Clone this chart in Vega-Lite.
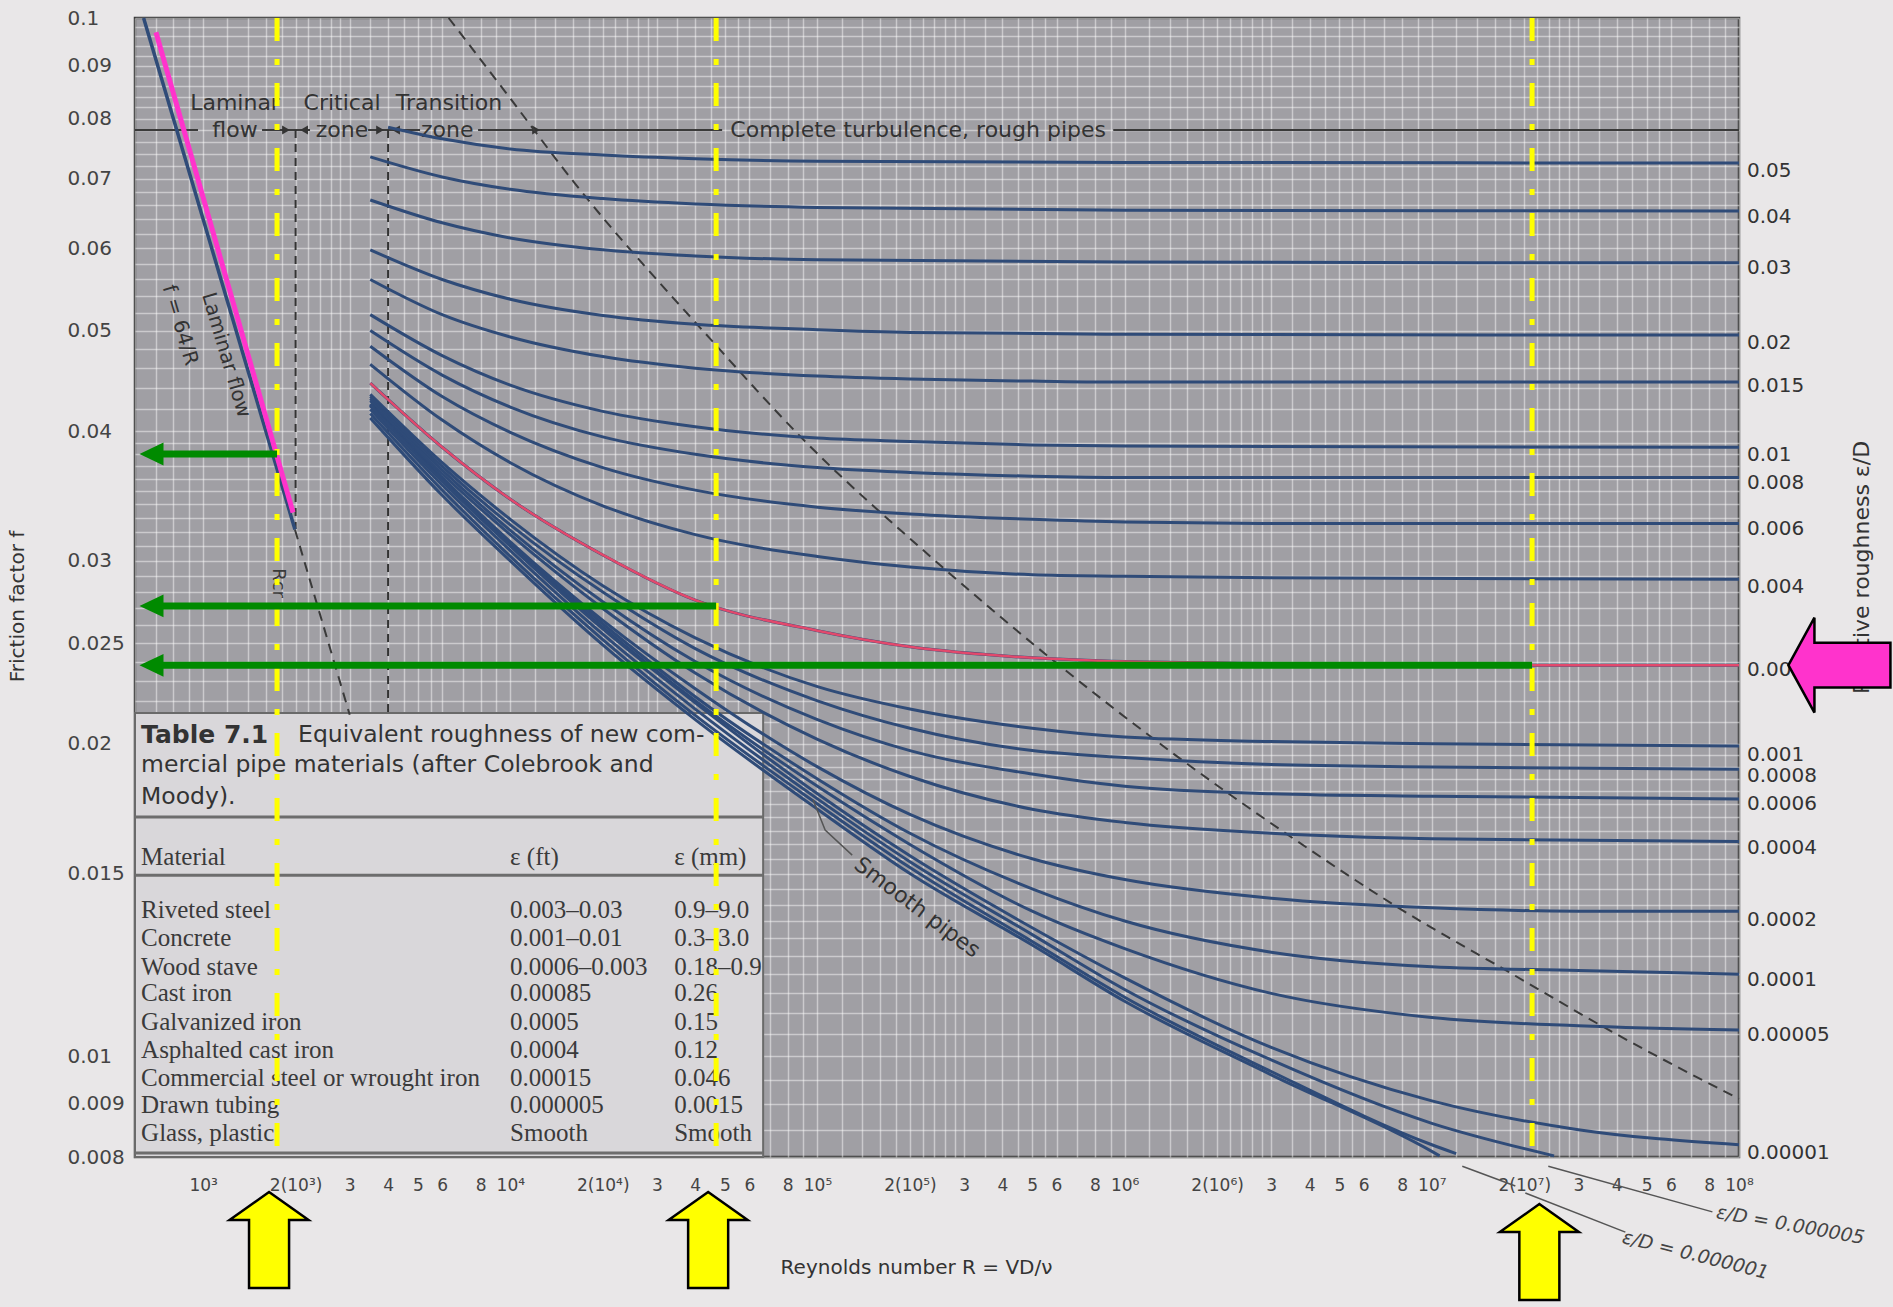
{
  "$schema": "https://vega.github.io/schema/vega-lite/v6.json",
  "width": 1604,
  "height": 1139,
  "autosize": {"type": "none"},
  "padding": {"left": 135, "top": 18, "right": 154, "bottom": 150},
  "background": "#e9e7e8",
  "datasets": {
    "curves": [
      {"r":"0.05","Re":4000,"f":0.0785},{"r":"0.05","Re":6000,"f":0.0765},{"r":"0.05","Re":10000,"f":0.0748},{"r":"0.05","Re":20000,"f":0.0738},{"r":"0.05","Re":40000,"f":0.0732},{"r":"0.05","Re":100000,"f":0.0728},{"r":"0.05","Re":1000000,"f":0.0726},{"r":"0.05","Re":100000000,"f":0.0725},
      {"r":"0.04","Re":3500,"f":0.0735},{"r":"0.04","Re":6000,"f":0.0703},{"r":"0.04","Re":10000,"f":0.0684},{"r":"0.04","Re":20000,"f":0.067},{"r":"0.04","Re":40000,"f":0.0662},{"r":"0.04","Re":100000,"f":0.0657},{"r":"0.04","Re":1000000,"f":0.0653},{"r":"0.04","Re":100000000,"f":0.0652},
      {"r":"0.03","Re":3500,"f":0.0668},{"r":"0.03","Re":6000,"f":0.0635},{"r":"0.03","Re":10000,"f":0.0614},{"r":"0.03","Re":20000,"f":0.0598},{"r":"0.03","Re":40000,"f":0.059},{"r":"0.03","Re":100000,"f":0.0585},{"r":"0.03","Re":1000000,"f":0.0582},{"r":"0.03","Re":100000000,"f":0.0581},
      {"r":"0.02","Re":3500,"f":0.0598},{"r":"0.02","Re":6000,"f":0.056},{"r":"0.02","Re":10000,"f":0.0536},{"r":"0.02","Re":20000,"f":0.0517},{"r":"0.02","Re":40000,"f":0.0507},{"r":"0.02","Re":100000,"f":0.0501},{"r":"0.02","Re":200000,"f":0.0498},{"r":"0.02","Re":1000000,"f":0.0496},{"r":"0.02","Re":100000000,"f":0.0495},
      {"r":"0.015","Re":3500,"f":0.056},{"r":"0.015","Re":6000,"f":0.0518},{"r":"0.015","Re":10000,"f":0.0493},{"r":"0.015","Re":20000,"f":0.0472},{"r":"0.015","Re":40000,"f":0.046},{"r":"0.015","Re":100000,"f":0.0452},{"r":"0.015","Re":200000,"f":0.0449},{"r":"0.015","Re":500000,"f":0.0447},{"r":"0.015","Re":1000000,"f":0.0446},{"r":"0.015","Re":100000000,"f":0.0446},
      {"r":"0.01","Re":3500,"f":0.0518},{"r":"0.01","Re":6000,"f":0.0473},{"r":"0.01","Re":10000,"f":0.0443},{"r":"0.01","Re":20000,"f":0.0418},{"r":"0.01","Re":40000,"f":0.0404},{"r":"0.01","Re":100000,"f":0.0394},{"r":"0.01","Re":200000,"f":0.0391},{"r":"0.01","Re":500000,"f":0.0388},{"r":"0.01","Re":1000000,"f":0.0387},{"r":"0.01","Re":100000000,"f":0.0386},
      {"r":"0.008","Re":3500,"f":0.05},{"r":"0.008","Re":6000,"f":0.0453},{"r":"0.008","Re":10000,"f":0.0422},{"r":"0.008","Re":20000,"f":0.0395},{"r":"0.008","Re":40000,"f":0.038},{"r":"0.008","Re":100000,"f":0.0369},{"r":"0.008","Re":200000,"f":0.0365},{"r":"0.008","Re":500000,"f":0.0362},{"r":"0.008","Re":1000000,"f":0.0361},{"r":"0.008","Re":100000000,"f":0.0361},
      {"r":"0.006","Re":3500,"f":0.0483},{"r":"0.006","Re":6000,"f":0.0432},{"r":"0.006","Re":10000,"f":0.0399},{"r":"0.006","Re":20000,"f":0.0369},{"r":"0.006","Re":40000,"f":0.0351},{"r":"0.006","Re":100000,"f":0.0338},{"r":"0.006","Re":200000,"f":0.0333},{"r":"0.006","Re":500000,"f":0.0329},{"r":"0.006","Re":1000000,"f":0.0327},{"r":"0.006","Re":3000000,"f":0.0326},{"r":"0.006","Re":100000000,"f":0.0326},
      {"r":"0.004","Re":3500,"f":0.0464},{"r":"0.004","Re":6000,"f":0.041},{"r":"0.004","Re":10000,"f":0.0373},{"r":"0.004","Re":20000,"f":0.0339},{"r":"0.004","Re":40000,"f":0.0318},{"r":"0.004","Re":100000,"f":0.0303},{"r":"0.004","Re":200000,"f":0.0296},{"r":"0.004","Re":500000,"f":0.0291},{"r":"0.004","Re":1000000,"f":0.029},{"r":"0.004","Re":3000000,"f":0.0289},{"r":"0.004","Re":100000000,"f":0.0288},
      {"r":"0.002","Re":3500,"f":0.0445},{"r":"0.002","Re":6000,"f":0.0386},{"r":"0.002","Re":10000,"f":0.0344},{"r":"0.002","Re":20000,"f":0.0304},{"r":"0.002","Re":40000,"f":0.0275},{"r":"0.002","Re":100000,"f":0.0257},{"r":"0.002","Re":200000,"f":0.0248},{"r":"0.002","Re":500000,"f":0.0242},{"r":"0.002","Re":1000000,"f":0.024},{"r":"0.002","Re":3000000,"f":0.0239},{"r":"0.002","Re":10000000,"f":0.0238},{"r":"0.002","Re":100000000,"f":0.0238},
      {"r":"0.001","Re":3500,"f":0.0434},{"r":"0.001","Re":6000,"f":0.0373},{"r":"0.001","Re":10000,"f":0.0329},{"r":"0.001","Re":20000,"f":0.0284},{"r":"0.001","Re":40000,"f":0.0253},{"r":"0.001","Re":100000,"f":0.0227},{"r":"0.001","Re":200000,"f":0.0216},{"r":"0.001","Re":500000,"f":0.0207},{"r":"0.001","Re":1000000,"f":0.0203},{"r":"0.001","Re":3000000,"f":0.0201},{"r":"0.001","Re":10000000,"f":0.02},{"r":"0.001","Re":100000000,"f":0.0199},
      {"r":"0.0008","Re":3500,"f":0.0432},{"r":"0.0008","Re":6000,"f":0.037},{"r":"0.0008","Re":10000,"f":0.0325},{"r":"0.0008","Re":20000,"f":0.028},{"r":"0.0008","Re":40000,"f":0.0247},{"r":"0.0008","Re":100000,"f":0.022},{"r":"0.0008","Re":200000,"f":0.0207},{"r":"0.0008","Re":500000,"f":0.0197},{"r":"0.0008","Re":1000000,"f":0.0194},{"r":"0.0008","Re":3000000,"f":0.0191},{"r":"0.0008","Re":10000000,"f":0.019},{"r":"0.0008","Re":100000000,"f":0.0189},
      {"r":"0.0006","Re":3500,"f":0.043},{"r":"0.0006","Re":6000,"f":0.0367},{"r":"0.0006","Re":10000,"f":0.0321},{"r":"0.0006","Re":20000,"f":0.0274},{"r":"0.0006","Re":40000,"f":0.024},{"r":"0.0006","Re":100000,"f":0.0211},{"r":"0.0006","Re":200000,"f":0.0197},{"r":"0.0006","Re":500000,"f":0.0187},{"r":"0.0006","Re":1000000,"f":0.0182},{"r":"0.0006","Re":3000000,"f":0.0179},{"r":"0.0006","Re":10000000,"f":0.0178},{"r":"0.0006","Re":100000000,"f":0.0177},
      {"r":"0.0004","Re":3500,"f":0.0428},{"r":"0.0004","Re":6000,"f":0.0364},{"r":"0.0004","Re":10000,"f":0.0318},{"r":"0.0004","Re":20000,"f":0.027},{"r":"0.0004","Re":40000,"f":0.0234},{"r":"0.0004","Re":100000,"f":0.0202},{"r":"0.0004","Re":200000,"f":0.0186},{"r":"0.0004","Re":500000,"f":0.0173},{"r":"0.0004","Re":1000000,"f":0.0168},{"r":"0.0004","Re":3000000,"f":0.0164},{"r":"0.0004","Re":10000000,"f":0.0162},{"r":"0.0004","Re":100000000,"f":0.0161},
      {"r":"0.0002","Re":3500,"f":0.0425},{"r":"0.0002","Re":6000,"f":0.0361},{"r":"0.0002","Re":10000,"f":0.0313},{"r":"0.0002","Re":20000,"f":0.0263},{"r":"0.0002","Re":40000,"f":0.0226},{"r":"0.0002","Re":100000,"f":0.019},{"r":"0.0002","Re":200000,"f":0.0171},{"r":"0.0002","Re":500000,"f":0.0155},{"r":"0.0002","Re":1000000,"f":0.0148},{"r":"0.0002","Re":3000000,"f":0.0142},{"r":"0.0002","Re":10000000,"f":0.0139},{"r":"0.0002","Re":30000000,"f":0.0138},{"r":"0.0002","Re":100000000,"f":0.0138},
      {"r":"0.0001","Re":3500,"f":0.0424},{"r":"0.0001","Re":6000,"f":0.036},{"r":"0.0001","Re":10000,"f":0.0312},{"r":"0.0001","Re":20000,"f":0.0261},{"r":"0.0001","Re":40000,"f":0.0222},{"r":"0.0001","Re":100000,"f":0.0185},{"r":"0.0001","Re":200000,"f":0.0164},{"r":"0.0001","Re":500000,"f":0.0145},{"r":"0.0001","Re":1000000,"f":0.0135},{"r":"0.0001","Re":3000000,"f":0.0126},{"r":"0.0001","Re":10000000,"f":0.0122},{"r":"0.0001","Re":30000000,"f":0.0121},{"r":"0.0001","Re":100000000,"f":0.012},
      {"r":"0.00005","Re":3500,"f":0.0424},{"r":"0.00005","Re":6000,"f":0.0359},{"r":"0.00005","Re":10000,"f":0.0311},{"r":"0.00005","Re":20000,"f":0.0259},{"r":"0.00005","Re":40000,"f":0.022},{"r":"0.00005","Re":100000,"f":0.0182},{"r":"0.00005","Re":200000,"f":0.016},{"r":"0.00005","Re":500000,"f":0.0138},{"r":"0.00005","Re":1000000,"f":0.0127},{"r":"0.00005","Re":3000000,"f":0.0115},{"r":"0.00005","Re":10000000,"f":0.0109},{"r":"0.00005","Re":30000000,"f":0.0107},{"r":"0.00005","Re":100000000,"f":0.0106},
      {"r":"0.00001","Re":3500,"f":0.0423},{"r":"0.00001","Re":6000,"f":0.0358},{"r":"0.00001","Re":10000,"f":0.031},{"r":"0.00001","Re":20000,"f":0.0258},{"r":"0.00001","Re":40000,"f":0.0219},{"r":"0.00001","Re":100000,"f":0.0179},{"r":"0.00001","Re":200000,"f":0.0156},{"r":"0.00001","Re":500000,"f":0.0133},{"r":"0.00001","Re":1000000,"f":0.0119},{"r":"0.00001","Re":3000000,"f":0.0102},{"r":"0.00001","Re":10000000,"f":0.00906},{"r":"0.00001","Re":30000000,"f":0.0085},{"r":"0.00001","Re":100000000,"f":0.00822},
      {"r":"0.000005","Re":3500,"f":0.042},{"r":"0.000005","Re":6000,"f":0.0355},{"r":"0.000005","Re":10000,"f":0.0307},{"r":"0.000005","Re":20000,"f":0.0255},{"r":"0.000005","Re":40000,"f":0.0216},{"r":"0.000005","Re":100000,"f":0.0177},{"r":"0.000005","Re":200000,"f":0.0154},{"r":"0.000005","Re":500000,"f":0.0131},{"r":"0.000005","Re":1000000,"f":0.0116},{"r":"0.000005","Re":3000000,"f":0.00992},{"r":"0.000005","Re":10000000,"f":0.00862},{"r":"0.000005","Re":25000000,"f":0.00802},
      {"r":"0.000001","Re":3500,"f":0.0416},{"r":"0.000001","Re":6000,"f":0.0351},{"r":"0.000001","Re":10000,"f":0.0303},{"r":"0.000001","Re":20000,"f":0.0252},{"r":"0.000001","Re":40000,"f":0.0213},{"r":"0.000001","Re":100000,"f":0.0175},{"r":"0.000001","Re":200000,"f":0.0152},{"r":"0.000001","Re":500000,"f":0.0129},{"r":"0.000001","Re":1000000,"f":0.0114},{"r":"0.000001","Re":3000000,"f":0.00967},{"r":"0.000001","Re":10000000,"f":0.00822},{"r":"0.000001","Re":12000000,"f":0.00806},
      {"r":"smooth","Re":3500,"f":0.0412},{"r":"smooth","Re":6000,"f":0.0347},{"r":"smooth","Re":10000,"f":0.03},{"r":"smooth","Re":20000,"f":0.0249},{"r":"smooth","Re":40000,"f":0.0211},{"r":"smooth","Re":100000,"f":0.0173},{"r":"smooth","Re":200000,"f":0.015},{"r":"smooth","Re":500000,"f":0.0128},{"r":"smooth","Re":1000000,"f":0.0113},{"r":"smooth","Re":3000000,"f":0.0096},{"r":"smooth","Re":10000000,"f":0.0081},{"r":"smooth","Re":10600000,"f":0.00802}
    ],
    "rlabels": [
      {"t":"0.05","f":0.07121},{"t":"0.04","f":0.0643},{"t":"0.03","f":0.05744},{"t":"0.02","f":0.04863},{"t":"0.015","f":0.0442},{"t":"0.01","f":0.03794},{"t":"0.008","f":0.03565},{"t":"0.006","f":0.0322},{"t":"0.004","f":0.02831},{"t":"0.002","f":0.02355},{"t":"0.001","f":0.01951},{"t":"0.0008","f":0.01862},{"t":"0.0006","f":0.0175},{"t":"0.0004","f":0.01586},{"t":"0.0002","f":0.01353},{"t":"0.0001","f":0.01184},{"t":"0.00005","f":0.01048},{"t":"0.00001","f":0.00807}
    ],
    "boundary": [
      {"Re":6300,"f":0.1},{"Re":9600,"f":0.085},{"Re":16100,"f":0.0695},{"Re":45000,"f":0.049},{"Re":92000,"f":0.039},{"Re":230000,"f":0.0304},{"Re":1430000,"f":0.0196},{"Re":3900000,"f":0.0159},{"Re":7500000,"f":0.014},{"Re":18300000,"f":0.012},{"Re":40000000,"f":0.0105},{"Re":100000000,"f":0.0091}
    ],
    "laminar": [{"Re":640,"f":0.1},{"Re":1990,"f":0.03216}],
    "laminarDash": [{"Re":1990,"f":0.03216},{"Re":3000,"f":0.02133}],
    "vdash": [{"Re":2000,"f1":0.078,"f2":0.0322},{"Re":4000,"f1":0.078,"f2":0.02141}],
    "header": [{"a":600,"b":962},{"a":1555,"b":2228},{"a":3443,"b":5083},{"a":7853,"b":48930},{"a":918000,"b":100000000}],
    "headerTri": [{"Re":1861,"d":"r"},{"Re":2131,"d":"l"},{"Re":3766,"d":"r"},{"Re":4246,"d":"l"},{"Re":12131,"d":"r"}],
    "headerText": [
      {"t":"Laminar","Re":1270,"f":0.0828},{"t":"flow","Re":1270,"f":0.078},
      {"t":"Critical","Re":2833,"f":0.0828},{"t":"zone","Re":2833,"f":0.078},
      {"t":"Transition","Re":6318,"f":0.0828},{"t":"zone","Re":6230,"f":0.078},
      {"t":"Complete turbulence, rough pipes","Re":212700,"f":0.078}
    ],
    "tableBox": [{"a":600,"b":66540,"f1":0.008,"f2":0.021413}],
    "tableRules": [{"f":0.016999},{"f":0.014943},{"f":0.00807}],
    "capBold": [{"t":"Table 7.1","Re":628,"f":0.020395}],
    "cap": [
      {"t":"Equivalent roughness of new com-","Re":2037,"f":0.020395},
      {"t":"mercial pipe materials (after Colebrook and","Re":628,"f":0.019083},
      {"t":"Moody).","Re":628,"f":0.017773}
    ],
    "table": [
      {"m":"Material","ft":"ε (ft)","mm":"ε (mm)","f":0.015552},
      {"m":"Riveted steel","ft":"0.003–0.03","mm":"0.9–9.0","f":0.013832},
      {"m":"Concrete","ft":"0.001–0.01","mm":"0.3–3.0","f":0.013001},
      {"m":"Wood stave","ft":"0.0006–0.003","mm":"0.18–0.9","f":0.01219},
      {"m":"Cast iron","ft":"0.00085","mm":"0.26","f":0.011504},
      {"m":"Galvanized iron","ft":"0.0005","mm":"0.15","f":0.010789},
      {"m":"Asphalted cast iron","ft":"0.0004","mm":"0.12","f":0.010141},
      {"m":"Commercial steel or wrought iron","ft":"0.00015","mm":"0.046","f":0.00953},
      {"m":"Drawn tubing","ft":"0.000005","mm":"0.0015","f":0.008976},
      {"m":"Glass, plastic","ft":"Smooth","mm":"Smooth","f":0.008436}
    ],
    "lamText": [{"t":"Laminar flow","Re":1187,"f":0.04736},{"t":"f = 64/R","Re":841,"f":0.0506}],
    "rcr": [{"t":"Rcr","Re":1753,"f":0.02856}],
    "smoothText": [{"t":"Smooth pipes","Re":211200,"f":0.013917}],
    "eps5": [{"t":"ε/D = 0.000005","Re":147000000,"f":0.006878}],
    "eps1": [{"t":"ε/D = 0.000001","Re":72100000,"f":0.006436}],
    "leaders": [
      {"g":"L1","Re":12566000,"f":0.007837},{"g":"L1","Re":18702000,"f":0.007501},
      {"g":"L2","Re":20157000,"f":0.007385},{"g":"L2","Re":42660000,"f":0.006772},
      {"g":"L3","Re":23940000,"f":0.007837},{"g":"L3","Re":81920000,"f":0.007083},
      {"g":"S","Re":96800,"f":0.017653},{"g":"S","Re":105920,"f":0.016517},{"g":"S","Re":129700,"f":0.015624}
    ],
    "pink": [{"Re":702,"f":0.0969},{"Re":1962,"f":0.0334}],
    "yellow": [{"Re":1740},{"Re":46780},{"Re":21200000}],
    "green": [{"f":0.03803,"Re0":679,"Re1":1740},{"f":0.02715,"Re0":679,"Re1":46780},{"f":0.0238,"Re0":679,"Re1":21200000}],
    "yArrows": [{"Re":1639,"f":0.006654},{"Re":44060,"f":0.006654},{"Re":22390000,"f":0.006479}],
    "pArrow": [{"Re":212300000,"f":0.02381}]
  },
  "resolve": {"axis": {"x": "independent", "y": "independent"}},
  "layer": [
    {
      "data": {"name": "tableBox"},
      "mark": {"type": "rect", "fill": "#d9d7da", "stroke": "#6a6a6a", "strokeWidth": 2},
      "encoding": {
        "x": {"field": "a", "type": "quantitative", "scale": {"type": "log", "domain": [600, 100000000], "nice": false},
          "axis": {"orient": "top", "grid": true, "gridColor": "#ffffff", "gridOpacity": 0.45, "gridWidth": 1.5, "labels": false, "title": null,
            "values": [600,700,800,900,1000,1200,1400,1600,1800,2000,2200,2400,2600,2800,3000,3500,4000,4500,5000,5500,6000,7000,8000,9000,10000,12000,14000,16000,18000,20000,22000,24000,26000,28000,30000,35000,40000,45000,50000,55000,60000,70000,80000,90000,100000,120000,140000,160000,180000,200000,220000,240000,260000,280000,300000,350000,400000,450000,500000,550000,600000,700000,800000,900000,1000000,1200000,1400000,1600000,1800000,2000000,2200000,2400000,2600000,2800000,3000000,3500000,4000000,4500000,5000000,5500000,6000000,7000000,8000000,9000000,10000000,12000000,14000000,16000000,18000000,20000000,22000000,24000000,26000000,28000000,30000000,35000000,40000000,45000000,50000000,55000000,60000000,70000000,80000000,90000000,100000000]}},
        "x2": {"field": "b"},
        "y": {"field": "f1", "type": "quantitative", "scale": {"type": "log", "domain": [0.008, 0.1], "nice": false},
          "axis": {"orient": "right", "grid": true, "gridColor": "#ffffff", "gridOpacity": 0.45, "gridWidth": 1.5, "labels": false,
            "title": "Relative roughness ε/D", "titleAngle": 270, "titlePadding": 134, "titleY": 549, "titleFontSize": 22,
            "values": [0.008,0.0085,0.009,0.0095,0.01,0.0105,0.011,0.0115,0.012,0.0125,0.013,0.0135,0.014,0.0145,0.015,0.0155,0.016,0.0165,0.017,0.0175,0.018,0.0185,0.019,0.0195,0.02,0.021,0.022,0.023,0.024,0.025,0.026,0.027,0.028,0.029,0.03,0.031,0.032,0.033,0.034,0.035,0.036,0.037,0.038,0.039,0.04,0.042,0.044,0.046,0.048,0.05,0.052,0.054,0.056,0.058,0.06,0.062,0.064,0.066,0.068,0.07,0.072,0.074,0.076,0.078,0.08,0.082,0.084,0.086,0.088,0.09,0.092,0.094,0.096,0.098,0.1]}},
        "y2": {"field": "f2"}
      }
    },
    {
      "data": {"name": "tableRules"},
      "mark": {"type": "rule", "stroke": "#6d6d6d", "strokeWidth": 3},
      "encoding": {
        "x": {"datum": 600, "type": "quantitative", "scale": {"type": "log", "domain": [600, 100000000], "nice": false}, "axis": null},
        "x2": {"datum": 66540},
        "y": {"field": "f", "type": "quantitative", "scale": {"type": "log", "domain": [0.008, 0.1], "nice": false}, "axis": null}
      }
    },
    {
      "data": {"name": "capBold"},
      "mark": {"type": "text", "font": "DejaVu Sans", "fontWeight": "bold", "fontSize": 25, "align": "left", "baseline": "middle", "color": "#333333"},
      "encoding": {
        "x": {"field": "Re", "type": "quantitative", "scale": {"type": "log", "domain": [600, 100000000], "nice": false}, "axis": null},
        "y": {"field": "f", "type": "quantitative", "scale": {"type": "log", "domain": [0.008, 0.1], "nice": false}, "axis": null},
        "text": {"field": "t"}
      }
    },
    {
      "data": {"name": "cap"},
      "mark": {"type": "text", "font": "DejaVu Sans", "fontSize": 23.5, "align": "left", "baseline": "middle", "color": "#333333"},
      "encoding": {
        "x": {"field": "Re", "type": "quantitative", "scale": {"type": "log", "domain": [600, 100000000], "nice": false}, "axis": null},
        "y": {"field": "f", "type": "quantitative", "scale": {"type": "log", "domain": [0.008, 0.1], "nice": false}, "axis": null},
        "text": {"field": "t"}
      }
    },
    {
      "data": {"name": "table"},
      "mark": {"type": "text", "font": "Liberation Serif", "fontSize": 25, "align": "left", "baseline": "middle", "color": "#3a3a3a"},
      "encoding": {
        "x": {"datum": 628, "type": "quantitative", "scale": {"type": "log", "domain": [600, 100000000], "nice": false}, "axis": null},
        "y": {"field": "f", "type": "quantitative", "scale": {"type": "log", "domain": [0.008, 0.1], "nice": false}, "axis": null},
        "text": {"field": "m"}
      }
    },
    {
      "data": {"name": "table"},
      "mark": {"type": "text", "font": "Liberation Serif", "fontSize": 25, "align": "left", "baseline": "middle", "color": "#3a3a3a"},
      "encoding": {
        "x": {"datum": 9983, "type": "quantitative", "scale": {"type": "log", "domain": [600, 100000000], "nice": false}, "axis": null},
        "y": {"field": "f", "type": "quantitative", "scale": {"type": "log", "domain": [0.008, 0.1], "nice": false}, "axis": null},
        "text": {"field": "ft"}
      }
    },
    {
      "data": {"name": "table"},
      "mark": {"type": "text", "font": "Liberation Serif", "fontSize": 25, "align": "left", "baseline": "middle", "color": "#3a3a3a"},
      "encoding": {
        "x": {"datum": 34150, "type": "quantitative", "scale": {"type": "log", "domain": [600, 100000000], "nice": false}, "axis": null},
        "y": {"field": "f", "type": "quantitative", "scale": {"type": "log", "domain": [0.008, 0.1], "nice": false}, "axis": null},
        "text": {"field": "mm"}
      }
    },
    {
      "data": {"name": "header"},
      "mark": {"type": "rule", "stroke": "#3a3a3a", "strokeWidth": 2},
      "encoding": {
        "x": {"field": "a", "type": "quantitative", "scale": {"type": "log", "domain": [600, 100000000], "nice": false}, "axis": null},
        "x2": {"field": "b"},
        "y": {"datum": 0.078, "type": "quantitative", "scale": {"type": "log", "domain": [0.008, 0.1], "nice": false}, "axis": null}
      }
    },
    {
      "data": {"name": "headerTri"},
      "mark": {"type": "point", "filled": true, "size": 80, "color": "#333333", "opacity": 1},
      "encoding": {
        "x": {"field": "Re", "type": "quantitative", "scale": {"type": "log", "domain": [600, 100000000], "nice": false}, "axis": null},
        "y": {"datum": 0.078, "type": "quantitative", "scale": {"type": "log", "domain": [0.008, 0.1], "nice": false}, "axis": null},
        "shape": {"field": "d", "type": "nominal", "scale": {"domain": ["r", "l"], "range": ["triangle-right", "triangle-left"]}, "legend": null}
      }
    },
    {
      "data": {"name": "headerText"},
      "mark": {"type": "text", "font": "DejaVu Sans", "fontSize": 22, "align": "center", "baseline": "middle", "color": "#333333"},
      "encoding": {
        "x": {"field": "Re", "type": "quantitative", "scale": {"type": "log", "domain": [600, 100000000], "nice": false}, "axis": null},
        "y": {"field": "f", "type": "quantitative", "scale": {"type": "log", "domain": [0.008, 0.1], "nice": false}, "axis": null},
        "text": {"field": "t"}
      }
    },
    {
      "data": {"name": "vdash"},
      "mark": {"type": "rule", "stroke": "#333333", "strokeWidth": 2, "strokeDash": [8, 6]},
      "encoding": {
        "x": {"field": "Re", "type": "quantitative", "scale": {"type": "log", "domain": [600, 100000000], "nice": false}, "axis": null},
        "y": {"field": "f1", "type": "quantitative", "scale": {"type": "log", "domain": [0.008, 0.1], "nice": false}, "axis": null},
        "y2": {"field": "f2"}
      }
    },
    {
      "data": {"name": "boundary"},
      "mark": {"type": "line", "interpolate": "monotone", "stroke": "#3a3a3a", "strokeWidth": 2, "strokeDash": [10, 7]},
      "encoding": {
        "x": {"field": "Re", "type": "quantitative", "scale": {"type": "log", "domain": [600, 100000000], "nice": false}, "axis": null},
        "y": {"field": "f", "type": "quantitative", "scale": {"type": "log", "domain": [0.008, 0.1], "nice": false}, "axis": null}
      }
    },
    {
      "data": {"name": "laminarDash"},
      "mark": {"type": "line", "stroke": "#3a3a3a", "strokeWidth": 2, "strokeDash": [10, 7]},
      "encoding": {
        "x": {"field": "Re", "type": "quantitative", "scale": {"type": "log", "domain": [600, 100000000], "nice": false}, "axis": null},
        "y": {"field": "f", "type": "quantitative", "scale": {"type": "log", "domain": [0.008, 0.1], "nice": false}, "axis": null}
      }
    },
    {
      "data": {"name": "curves"},
      "mark": {"type": "line", "interpolate": "monotone", "stroke": "#2f4b78", "strokeWidth": 3},
      "encoding": {
        "x": {"field": "Re", "type": "quantitative", "scale": {"type": "log", "domain": [600, 100000000], "nice": false},
          "axis": {"orient": "bottom", "grid": false,
            "values": [1000,2000,3000,4000,5000,6000,8000,10000,20000,30000,40000,50000,60000,80000,100000,200000,300000,400000,500000,600000,800000,1000000,2000000,3000000,4000000,5000000,6000000,8000000,10000000,20000000,30000000,40000000,50000000,60000000,80000000,100000000],
            "labelExpr": "round(datum.value / pow(10, floor(log(datum.value) / LN10 + 0.001))) == 1 ? '10' + substring('⁰¹²³⁴⁵⁶⁷⁸⁹', floor(log(datum.value) / LN10 + 0.001), floor(log(datum.value) / LN10 + 0.001) + 1) : (round(datum.value / pow(10, floor(log(datum.value) / LN10 + 0.001))) == 2 ? '2(10' + substring('⁰¹²³⁴⁵⁶⁷⁸⁹', floor(log(datum.value) / LN10 + 0.001), floor(log(datum.value) / LN10 + 0.001) + 1) + ')' : '' + round(datum.value / pow(10, floor(log(datum.value) / LN10 + 0.001))))",
            "labelFontSize": 17, "labelPadding": 20, "labelOverlap": false, "labelFlush": false,
            "title": "Reynolds number R = VD/ν", "titleFontSize": 20, "titlePadding": 64, "titleX": 781}},
        "y": {"field": "f", "type": "quantitative", "scale": {"type": "log", "domain": [0.008, 0.1], "nice": false},
          "axis": {"orient": "left", "grid": false,
            "values": [0.1,0.09,0.08,0.07,0.06,0.05,0.04,0.03,0.025,0.02,0.015,0.01,0.009,0.008],
            "format": "~g", "labelFontSize": 20, "labelAlign": "left", "labelPadding": 68, "labelBaseline": "middle", "labelOverlap": false, "labelFlush": false,
            "title": "Friction factor f", "titleFontSize": 20, "titlePadding": 40, "titleY": 588}},
        "detail": {"field": "r", "type": "nominal"}
      }
    },
    {
      "data": {"name": "laminar"},
      "mark": {"type": "line", "stroke": "#2f4b78", "strokeWidth": 3.5},
      "encoding": {
        "x": {"field": "Re", "type": "quantitative", "scale": {"type": "log", "domain": [600, 100000000], "nice": false}, "axis": null},
        "y": {"field": "f", "type": "quantitative", "scale": {"type": "log", "domain": [0.008, 0.1], "nice": false}, "axis": null}
      }
    },
    {
      "data": {"name": "curves"},
      "transform": [{"filter": "datum.r == '0.002'"}],
      "mark": {"type": "line", "interpolate": "monotone", "stroke": "#e2496c", "strokeWidth": 2.5},
      "encoding": {
        "x": {"field": "Re", "type": "quantitative", "scale": {"type": "log", "domain": [600, 100000000], "nice": false}, "axis": null},
        "y": {"field": "f", "type": "quantitative", "scale": {"type": "log", "domain": [0.008, 0.1], "nice": false}, "axis": null}
      }
    },
    {
      "data": {"name": "rlabels"},
      "mark": {"type": "text", "font": "DejaVu Sans", "fontSize": 20, "align": "left", "baseline": "middle", "dx": 8, "color": "#333333"},
      "encoding": {
        "x": {"datum": 100000000, "type": "quantitative", "scale": {"type": "log", "domain": [600, 100000000], "nice": false}, "axis": null},
        "y": {"field": "f", "type": "quantitative", "scale": {"type": "log", "domain": [0.008, 0.1], "nice": false}, "axis": null},
        "text": {"field": "t"}
      }
    },
    {
      "data": {"name": "leaders"},
      "mark": {"type": "line", "stroke": "#555555", "strokeWidth": 1.5},
      "encoding": {
        "x": {"field": "Re", "type": "quantitative", "scale": {"type": "log", "domain": [600, 100000000], "nice": false}, "axis": null},
        "y": {"field": "f", "type": "quantitative", "scale": {"type": "log", "domain": [0.008, 0.1], "nice": false}, "axis": null},
        "detail": {"field": "g", "type": "nominal"}
      }
    },
    {
      "data": {"name": "smoothText"},
      "mark": {"type": "text", "font": "DejaVu Sans", "fontSize": 22, "angle": 37, "align": "center", "baseline": "middle", "color": "#333333"},
      "encoding": {
        "x": {"field": "Re", "type": "quantitative", "scale": {"type": "log", "domain": [600, 100000000], "nice": false}, "axis": null},
        "y": {"field": "f", "type": "quantitative", "scale": {"type": "log", "domain": [0.008, 0.1], "nice": false}, "axis": null},
        "text": {"field": "t"}
      }
    },
    {
      "data": {"name": "lamText"},
      "mark": {"type": "text", "font": "DejaVu Sans", "fontSize": 20, "angle": 73.5, "align": "center", "baseline": "middle", "color": "#333333"},
      "encoding": {
        "x": {"field": "Re", "type": "quantitative", "scale": {"type": "log", "domain": [600, 100000000], "nice": false}, "axis": null},
        "y": {"field": "f", "type": "quantitative", "scale": {"type": "log", "domain": [0.008, 0.1], "nice": false}, "axis": null},
        "text": {"field": "t"}
      }
    },
    {
      "data": {"name": "rcr"},
      "mark": {"type": "text", "font": "DejaVu Sans", "fontSize": 18, "angle": 90, "align": "center", "baseline": "middle", "color": "#3a3a3a"},
      "encoding": {
        "x": {"field": "Re", "type": "quantitative", "scale": {"type": "log", "domain": [600, 100000000], "nice": false}, "axis": null},
        "y": {"field": "f", "type": "quantitative", "scale": {"type": "log", "domain": [0.008, 0.1], "nice": false}, "axis": null},
        "text": {"field": "t"}
      }
    },
    {
      "data": {"name": "eps5"},
      "mark": {"type": "text", "font": "DejaVu Sans", "fontSize": 19, "fontStyle": "italic", "angle": 10, "align": "center", "baseline": "middle", "color": "#444444"},
      "encoding": {
        "x": {"field": "Re", "type": "quantitative", "scale": {"type": "log", "domain": [600, 100000000], "nice": false}, "axis": null},
        "y": {"field": "f", "type": "quantitative", "scale": {"type": "log", "domain": [0.008, 0.1], "nice": false}, "axis": null},
        "text": {"field": "t"}
      }
    },
    {
      "data": {"name": "eps1"},
      "mark": {"type": "text", "font": "DejaVu Sans", "fontSize": 19, "fontStyle": "italic", "angle": 14, "align": "center", "baseline": "middle", "color": "#444444"},
      "encoding": {
        "x": {"field": "Re", "type": "quantitative", "scale": {"type": "log", "domain": [600, 100000000], "nice": false}, "axis": null},
        "y": {"field": "f", "type": "quantitative", "scale": {"type": "log", "domain": [0.008, 0.1], "nice": false}, "axis": null},
        "text": {"field": "t"}
      }
    },
    {
      "data": {"name": "pink"},
      "mark": {"type": "line", "stroke": "#ff33cc", "strokeWidth": 5},
      "encoding": {
        "x": {"field": "Re", "type": "quantitative", "scale": {"type": "log", "domain": [600, 100000000], "nice": false}, "axis": null},
        "y": {"field": "f", "type": "quantitative", "scale": {"type": "log", "domain": [0.008, 0.1], "nice": false}, "axis": null}
      }
    },
    {
      "data": {"name": "yellow"},
      "mark": {"type": "rule", "stroke": "#ffff00", "strokeWidth": 5, "strokeDash": [23, 18, 6, 18]},
      "encoding": {
        "x": {"field": "Re", "type": "quantitative", "scale": {"type": "log", "domain": [600, 100000000], "nice": false}, "axis": null}
      }
    },
    {
      "data": {"name": "green"},
      "mark": {"type": "rule", "stroke": "#008a00", "strokeWidth": 7},
      "encoding": {
        "x": {"field": "Re0", "type": "quantitative", "scale": {"type": "log", "domain": [600, 100000000], "nice": false}, "axis": null},
        "x2": {"field": "Re1"},
        "y": {"field": "f", "type": "quantitative", "scale": {"type": "log", "domain": [0.008, 0.1], "nice": false}, "axis": null}
      }
    },
    {
      "data": {"name": "green"},
      "mark": {"type": "point", "shape": "M-1,0L1,-0.95L1,0.95Z", "size": 576, "filled": true, "fill": "#008a00", "strokeWidth": 0, "opacity": 1},
      "encoding": {
        "x": {"field": "Re0", "type": "quantitative", "scale": {"type": "log", "domain": [600, 100000000], "nice": false}, "axis": null},
        "y": {"field": "f", "type": "quantitative", "scale": {"type": "log", "domain": [0.008, 0.1], "nice": false}, "axis": null}
      }
    },
    {
      "data": {"name": "yArrows"},
      "mark": {"type": "point", "shape": "M0,-1L0.823,-0.417L0.417,-0.417L0.417,1L-0.417,1L-0.417,-0.417L-0.823,-0.417Z", "size": 9216, "filled": true, "fill": "#ffff00", "stroke": "#000000", "strokeWidth": 2.5, "opacity": 1},
      "encoding": {
        "x": {"field": "Re", "type": "quantitative", "scale": {"type": "log", "domain": [600, 100000000], "nice": false}, "axis": null},
        "y": {"field": "f", "type": "quantitative", "scale": {"type": "log", "domain": [0.008, 0.1], "nice": false}, "axis": null}
      }
    },
    {
      "data": {"name": "pArrow"},
      "mark": {"type": "point", "shape": "M-1,0L-0.49,-0.93L-0.49,-0.44L1,-0.44L1,0.44L-0.49,0.44L-0.49,0.93Z", "size": 10404, "filled": true, "fill": "#ff33cc", "stroke": "#000000", "strokeWidth": 2.5, "opacity": 1},
      "encoding": {
        "x": {"field": "Re", "type": "quantitative", "scale": {"type": "log", "domain": [600, 100000000], "nice": false}, "axis": null},
        "y": {"field": "f", "type": "quantitative", "scale": {"type": "log", "domain": [0.008, 0.1], "nice": false}, "axis": null}
      }
    }
  ],
  "config": {
    "view": {"fill": "#a09fa4", "stroke": "#3a3a3a", "strokeWidth": 2.5},
    "axis": {"domain": false, "ticks": false, "tickSize": 0, "labelFont": "DejaVu Sans", "titleFont": "DejaVu Sans", "labelColor": "#444444", "titleColor": "#333333", "titleFontWeight": "normal"},
    "text": {"font": "DejaVu Sans"}
  }
}
